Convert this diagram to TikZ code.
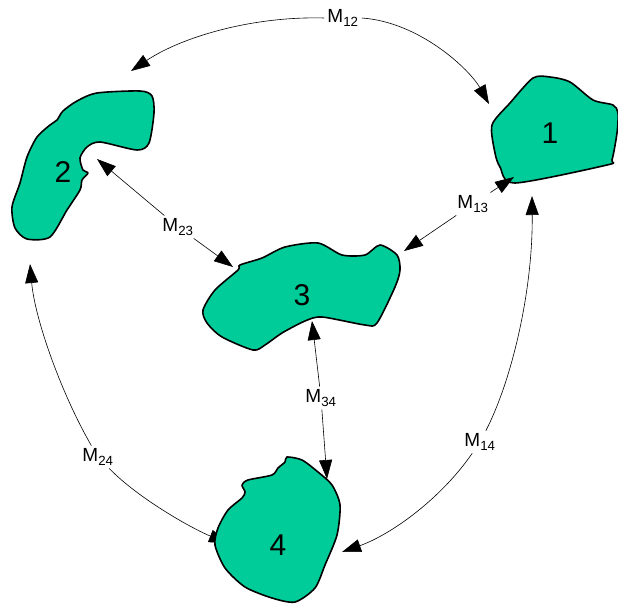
\documentclass[tikz,border=0pt]{standalone}
\usepackage{fontspec}
\setmainfont{Liberation Sans}
\usepackage{xcolor}
\definecolor{blobgreen}{RGB}{0,204,153}
\usetikzlibrary{arrows.meta}
\tikzset{
  blob/.style={draw=black,line width=1.6pt,fill=blobgreen,line join=round},
  link/.style={line width=0.6pt,-{Triangle[length=19pt,width=13pt]}},
  mlabel/.style={font=\fontsize{19}{22}\selectfont,inner sep=3pt},
  numlabel/.style={font=\fontsize{30}{34}\selectfont,inner sep=0pt}
}

\begin{document}
\begin{tikzpicture}[x=1pt,y=-1pt]
\useasboundingbox (0,0) rectangle (618,604);
% ---- koncowki strzalek ----
\coordinate (t12a) at (131,71);
\coordinate (t12b) at (489,104);
\coordinate (t23a) at (97,159);
\coordinate (t23b) at (233,267);
\coordinate (t13a) at (404,251);
\coordinate (t13b) at (514,177);
\coordinate (t34a) at (312,321);
\coordinate (t34b) at (327,479);
\coordinate (t24a) at (30,264);
\coordinate (t24b) at (228,543);
\coordinate (t14a) at (532,196);
\coordinate (t14b) at (342,552);
% ---- etykiety sprzezen ----
\node[mlabel] (m12) at (343,18) {M\textsubscript{12}};
\node[mlabel] (m23) at (178,227) {M\textsubscript{23}};
\node[mlabel] (m13) at (473,204) {M\textsubscript{13}};
\node[mlabel] (m34) at (321,398) {M\textsubscript{34}};
\node[mlabel] (m24) at (98,457) {M\textsubscript{24}};
\node[mlabel] (m14) at (480,442) {M\textsubscript{14}};
% grot M24 schowany pod bryla 4
\draw[link] (m24) .. controls (140,500) and (195,530) .. (t24b);
% ---- bryly ----
\draw[blob] plot[smooth cycle,tension=0.45] coordinates {(510,103) (533,78) (550,77) (570,82) (593,100) (613,105) (618,113) (617,133) (612,160) (607,165) (515,183) (500,167) (495,153) (492,125)};
\draw[blob] plot[smooth cycle,tension=0.45] coordinates {(77,101) (97,93) (140,91) (152,96) (154,113) (149,143) (137,150) (100,142) (87,147) (80,158) (83,170) (88,173) (82,180) (80,190) (67,210) (50,237) (27,239) (15,228) (12,207) (20,183) (27,157) (37,137) (50,125) (57,120) (63,111)};
\draw[blob] plot[smooth cycle,tension=0.45] coordinates {(215,290) (238,270) (240,265) (262,258) (285,247) (318,243) (342,255) (365,255) (380,245) (397,255) (400,270) (395,287) (377,323) (365,325) (322,317) (305,321) (282,333) (265,345) (253,350) (222,337) (207,323) (203,310)};
\draw[blob] plot[smooth cycle,tension=0.45] coordinates {(287,457) (302,460) (318,472) (332,485) (340,505) (337,535) (325,565) (315,588) (295,602) (272,598) (245,587) (225,568) (215,545) (218,528) (228,510) (242,498) (245,492) (242,485) (248,480) (272,475) (278,468) (285,462)};
\node[numlabel] (n1) at (550,133) {1};
\node[numlabel] (n2) at (63,172) {2};
\node[numlabel] (n3) at (302,295) {3};
\node[numlabel] (n4) at (278,545) {4};
% ---- sprzezenia ----
\draw[link] (m12.west) .. controls (250,16) and (180,38) .. (t12a);
\draw[link] (m12.east) .. controls (420,22) and (470,70) .. (t12b);
\draw[link] (m23) -- (t23a);
\draw[link] (m23) -- (t23b);
\draw[link] (m13) -- (t13a);
\draw[link] (m13) -- (t13b);
\draw[link] (m34) -- (t34a);
\draw[link] (m34) -- (t34b);
\draw[link] (m24) .. controls (62,395) and (35,320) .. (t24a);
\draw[link] (m14) .. controls (512,380) and (533,290) .. (t14a);
\draw[link] (m14) .. controls (440,500) and (390,535) .. (t14b);
\end{tikzpicture}
\end{document}
